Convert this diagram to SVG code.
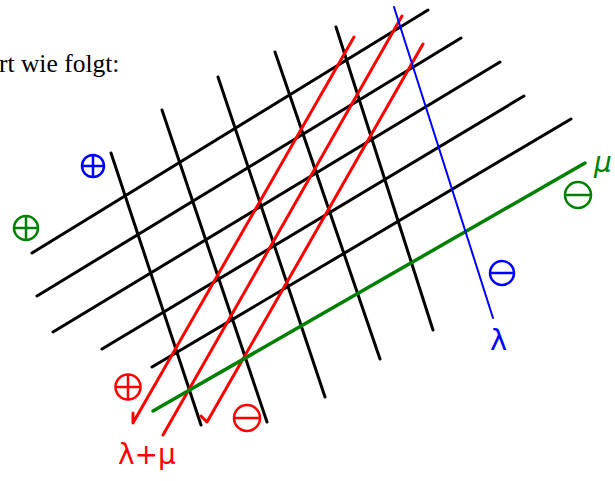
<svg xmlns="http://www.w3.org/2000/svg" width="615" height="481" viewBox="0 0 615 481">
<style>
.k{stroke:#000;stroke-width:3;stroke-linecap:round;fill:none}
.r{stroke:#ff0000;stroke-width:3;stroke-linecap:round;stroke-linejoin:round;fill:none}
.g{stroke:#008000;stroke-width:3.5;stroke-linecap:round;fill:none}
.b{stroke:#0000ff;stroke-width:2;stroke-linecap:round;fill:none}
.sym{fill:none;stroke-width:2.5}
.hand{font-family:"DejaVu Sans","Liberation Sans",sans-serif}
</style>
<rect width="615" height="481" fill="#fff"/>
<text x="-1" y="72" font-family="'Liberation Serif',serif" font-size="25.5" fill="#000">rt wie folgt:</text>
<g id="grid-a">
<line class="k" x1="32" y1="253" x2="428" y2="10"/>
<line class="k" x1="37" y1="296" x2="461" y2="38"/>
<line class="k" x1="53" y1="332" x2="500" y2="62"/>
<line class="k" x1="102" y1="349" x2="524" y2="96"/>
<line class="k" x1="152" y1="367" x2="571" y2="119"/>
</g>
<g id="grid-b">
<line class="k" x1="111" y1="153" x2="201" y2="425"/>
<line class="k" x1="162" y1="110" x2="267" y2="422"/>
<line class="k" x1="218" y1="77" x2="325" y2="397"/>
<line class="k" x1="275" y1="52" x2="380" y2="359"/>
<line class="k" x1="336" y1="27" x2="433" y2="330"/>
</g>
<g id="connectors">
<path class="r" d="M354 37 L133 423 L133 413"/>
<path class="r" d="M402 16 L163 435"/>
<path class="r" d="M423 44 L207 422 L201 416"/>
<line class="g" x1="153" y1="411" x2="585" y2="163"/>
<line class="b" x1="394" y1="7" x2="493" y2="318"/>
</g>
<g id="blue-plus" stroke="#0000ff" class="sym">
<circle cx="93" cy="166" r="11"/><line x1="82" y1="166" x2="104" y2="166"/><line x1="93" y1="155" x2="93" y2="177"/>
</g>
<g id="green-plus" stroke="#008000" class="sym">
<circle cx="26" cy="228" r="12"/><line x1="14" y1="228" x2="38" y2="228"/><line x1="26" y1="216" x2="26" y2="240"/>
</g>
<g id="green-minus" stroke="#008000" class="sym">
<circle cx="578" cy="195" r="13"/><line x1="565" y1="195" x2="591" y2="195"/>
</g>
<text class="hand" x="594" y="172" font-size="28" font-style="italic" fill="#008000">μ</text>
<g id="blue-minus" stroke="#0000ff" class="sym">
<circle cx="502" cy="273" r="12"/><line x1="490" y1="273" x2="514" y2="273"/>
</g>
<text class="hand" x="490" y="350" font-size="29" fill="#0000ff">λ</text>
<g id="red-plus" stroke="#ff0000" class="sym">
<circle cx="128" cy="387" r="12.5"/><line x1="115.5" y1="387" x2="140.5" y2="387"/><line x1="128" y1="374.5" x2="128" y2="399.5"/>
</g>
<g id="red-minus" stroke="#ff0000" class="sym">
<circle cx="247" cy="418" r="13"/><line x1="234" y1="418" x2="260" y2="418"/>
</g>
<text class="hand" x="118" y="464" font-size="28" fill="#ff0000">λ+μ</text>
</svg>
